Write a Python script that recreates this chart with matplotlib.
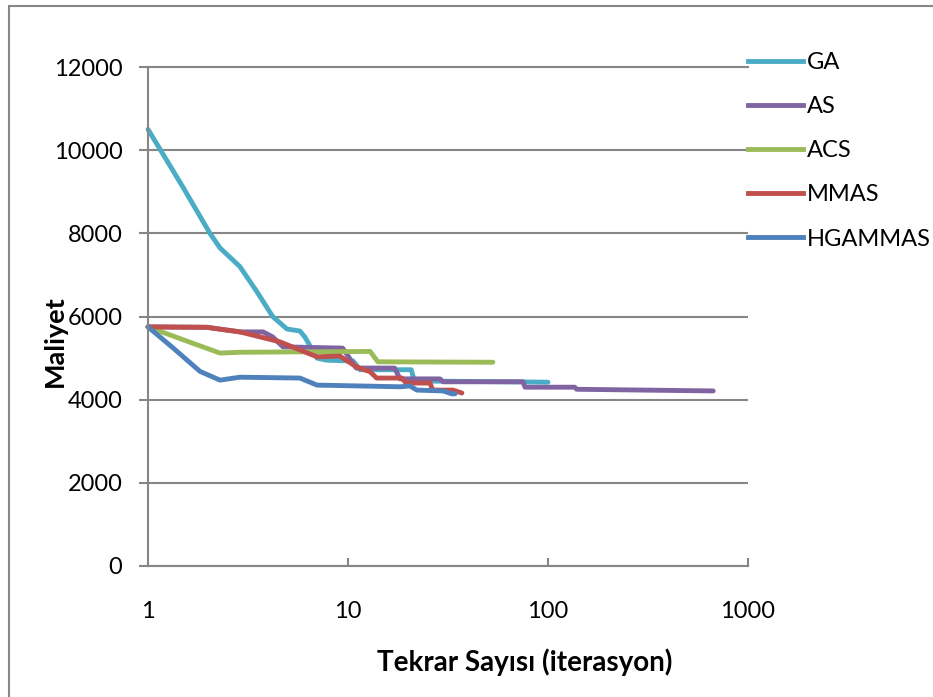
import matplotlib.pyplot as plt
from matplotlib.lines import Line2D

plt.rcParams['font.family'] = ['Lato', 'DejaVu Sans']

# cost per iteration (log x) for each algorithm
ga_x = [1, 1.5, 2.04, 2.29, 2.88, 3.5, 4.2, 4.95, 5.75, 6.1, 7.0, 7.8, 10.6, 11.5, 20.7, 21.5, 100]
ga_y = [10500, 9100, 8000, 7650, 7200, 6600, 6000, 5700, 5650, 5500, 5000, 4950, 4930, 4720, 4720, 4450, 4420]

as_x = [1, 1.97, 2.88, 3.76, 4.2, 4.73, 9.4, 11.0, 17.1, 18.2, 28.8, 29.9, 75, 76.7, 136, 139, 670]
as_y = [5750, 5740, 5630, 5630, 5510, 5270, 5240, 4760, 4760, 4500, 4500, 4430, 4430, 4300, 4300, 4250, 4210]

acs_x = [1, 1.5, 2.29, 2.88, 12.9, 14.1, 53]
acs_y = [5750, 5440, 5120, 5140, 5160, 4910, 4900]

mmas_x = [1, 1.97, 2.88, 4.57, 7.0, 9.1, 11.0, 12.9, 13.9, 18.6, 19.5, 25.7, 26.5, 33.5, 37.1]
mmas_y = [5750, 5740, 5630, 5390, 5030, 5050, 4790, 4670, 4520, 4520, 4400, 4400, 4230, 4230, 4160]

hg_x = [1, 1.33, 1.82, 2.29, 2.88, 5.75, 7.0, 18.2, 20.4, 22.1, 29.9, 33.0, 34.3]
hg_y = [5750, 5250, 4680, 4470, 4540, 4520, 4350, 4310, 4330, 4230, 4210, 4140, 4140]

names = ['GA', 'AS', 'ACS', 'MMAS', 'HGAMMAS']
colors = ['#4BACC6', '#8064A2', '#9BBB59', '#C0504D', '#4F81BD']
series = [(ga_x, ga_y), (as_x, as_y), (acs_x, acs_y), (mmas_x, mmas_y), (hg_x, hg_y)]

grid_col = '#868686'

fig = plt.figure(figsize=(9.33, 6.97), dpi=100)
W, H = 933, 697
ax = fig.add_axes([148 / W, 1 - 566 / H, 600 / W, 499 / H])

for (x, y), c, n in zip(series, colors, names):
    ax.plot(x, y, color=c, lw=3.5, label=n, clip_on=False,
            solid_joinstyle='round', solid_capstyle='round')

ax.set_xscale('log')
ax.set_xlim(1, 1000)
ax.set_ylim(0, 12000)
ax.set_xticks([1, 10, 100, 1000])
ax.set_xticklabels(['1', '10', '100', '1000'])
ax.minorticks_off()
ax.set_yticks(range(0, 12001, 2000))
ax.set_yticklabels([str(v) for v in range(0, 12001, 2000)])

ax.grid(axis='y', color=grid_col, lw=1.5)
ax.set_axisbelow(True)
for s in ['top', 'right']:
    ax.spines[s].set_visible(False)
for s in ['left', 'bottom']:
    ax.spines[s].set_color(grid_col)
    ax.spines[s].set_linewidth(1.5)

ax.tick_params(axis='x', direction='in', length=5.8, width=1.5, color=grid_col,
               pad=25, labelsize=17)
ax.tick_params(axis='y', direction='out', length=6.5, width=1.5, color=grid_col,
               pad=12, labelsize=17)
# top gridline sits on the axes edge
ax.axhline(12000, color=grid_col, lw=1.5, clip_on=False, zorder=0.5)

fig.text(525 / W, 1 - 662 / H, 'Tekrar Sayısı (iterasyon)', ha='center', va='center',
         fontsize=20, fontweight='bold')
fig.text(55 / W, 1 - 341 / H, 'Maliyet', ha='center', va='center', rotation=90,
         fontsize=19.5, fontweight='bold')

handles = [Line2D([], [], color=c, lw=3.5) for c in colors]
fig.legend(handles, names, loc='upper left', bbox_to_anchor=(748 / W, 1 - 52 / H),
           frameon=False, fontsize=17, handlelength=2.33, handletextpad=0.18,
           labelspacing=0.98, borderaxespad=0, borderpad=0)

# chart-area border
fig.add_artist(plt.Rectangle((9 / W, -0.1), 1.2, 1.1 - 6 / H, transform=fig.transFigure,
                             fill=False, ec=grid_col, lw=1.5))

fig.savefig('out.png', dpi=100)
